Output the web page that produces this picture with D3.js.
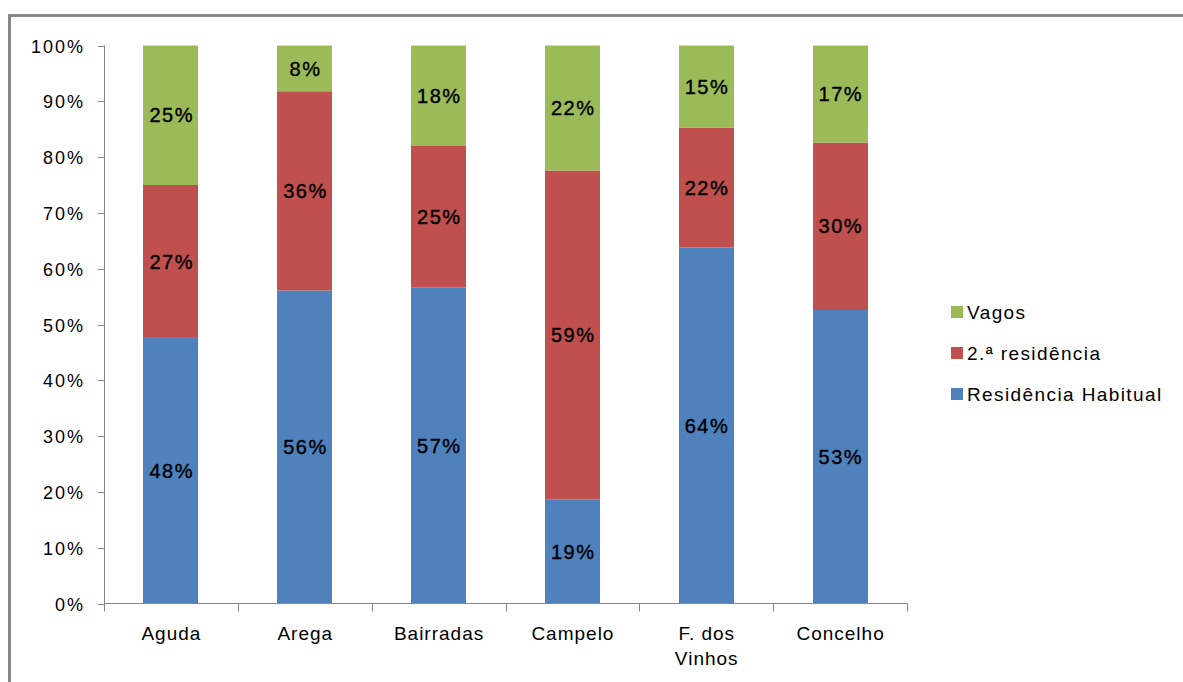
<!DOCTYPE html>
<html><head><meta charset="utf-8">
<script src="https://cdn.jsdelivr.net/npm/d3@7"></script>
<style>body{margin:0;background:#fff;} text{font-family:"Liberation Sans",Arial,sans-serif;}</style>
</head><body>
<svg id="chart" width="1183" height="682"></svg>
<script>
const categories = ["Aguda", "Arega", "Bairradas", "Campelo", "F. dos Vinhos", "Concelho"];
const residenciaHabitual = [47.6, 56.1, 56.6, 18.6, 63.8, 52.6];
const segundaResidencia = [27.4, 35.7, 25.5, 59.0, 21.5, 30.0];
const vagos = [25.0, 8.2, 17.9, 22.4, 14.7, 17.4];
const seriesNames = ["Residência Habitual", "2.ª residência", "Vagos"];
const seriesColors = ["#4F81BD", "#C0504D", "#9BBB59"];
const yTicks = [0,10,20,30,40,50,60,70,80,90,100];

const svg = d3.select("#chart");
// outer border (top and left visible)
svg.append("path").attr("d","M9.5,682 L9.5,15.5 L1183,15.5").attr("fill","none").attr("stroke","#888").attr("stroke-width",3);

const x0 = 104, x1 = 907, yTop = 45.5, yBot = 603.5;
const x = d3.scaleBand().domain(categories).range([x0, x1]).paddingInner(0).paddingOuter(0);
const y = d3.scaleLinear().domain([0,100]).range([yBot, yTop]);
const barW = 55;

const stackData = categories.map((c,i)=>({cat:c, s0:residenciaHabitual[i], s1:segundaResidencia[i], s2:vagos[i]}));
const stack = d3.stack().keys(["s0","s1","s2"])(stackData);

const g = svg.append("g");
stack.forEach((layer, li)=>{
  layer.forEach(d=>{
    const cx = x(d.data.cat) + x.bandwidth()/2;
    const top = Math.min(100, d[1]);
    g.append("rect")
      .attr("x", Math.round(cx - barW/2))
      .attr("y", y(top))
      .attr("width", barW)
      .attr("height", y(d[0]) - y(top))
      .attr("fill", seriesColors[li]);
    const val = d[1]-d[0];
    g.append("text")
      .attr("x", cx + 0.75)
      .attr("y", (y(d[0]) + y(top))/2)
      .attr("dy","0.36em")
      .attr("text-anchor","middle")
      .attr("font-size","20px")
      .attr("letter-spacing","1.5px")
      .attr("fill","#000")
      .attr("stroke","#000").attr("stroke-width",0.4)
      .text(Math.round(val) + "%");
  });
});

// y axis
const axisColor = "#868686";
svg.append("line").attr("x1",x0+0.5).attr("x2",x0+0.5).attr("y1",yTop).attr("y2",yBot).attr("stroke",axisColor);
yTicks.forEach(t=>{
  const yy = Math.round(y(t))+0.5;
  svg.append("line").attr("x1",x0-6).attr("x2",x0).attr("y1",yy).attr("y2",yy).attr("stroke",axisColor);
  svg.append("text").attr("x",85).attr("y",yy).attr("dy","0.36em").attr("text-anchor","end")
    .attr("font-size","18px").attr("letter-spacing","2px").attr("fill","#000").text(t+"%");
});
// x axis
svg.append("line").attr("x1",x0).attr("x2",x1+0.5).attr("y1",yBot).attr("y2",yBot).attr("stroke",axisColor);
const xTickPos = categories.map(c=>x(c)).concat([x1]);
xTickPos.forEach(p=>{
  const xx = Math.round(p)+0.5;
  svg.append("line").attr("x1",xx).attr("x2",xx).attr("y1",yBot).attr("y2",yBot+8).attr("stroke",axisColor);
});
categories.forEach(c=>{
  const cx = x(c) + x.bandwidth()/2;
  const lines = c === "F. dos Vinhos" ? ["F. dos","Vinhos"] : [c];
  lines.forEach((ln,k)=>{
    svg.append("text").attr("x",cx + 0.5).attr("y",640 + k*25).attr("text-anchor","middle")
      .attr("font-size","19px").attr("letter-spacing","1px").attr("fill","#000").text(ln);
  });
});

// legend
const legendItems = [2,1,0];
legendItems.forEach((si,k)=>{
  const cy = 312 + k*41;
  svg.append("rect").attr("x",951).attr("y",cy-6).attr("width",12).attr("height",12).attr("fill",seriesColors[si]);
  svg.append("text").attr("x",967).attr("y",cy).attr("dy","0.36em").attr("font-size","19px")
    .attr("letter-spacing","1.4px").attr("fill","#000").text(seriesNames[si]);
});
</script>
</body></html>
